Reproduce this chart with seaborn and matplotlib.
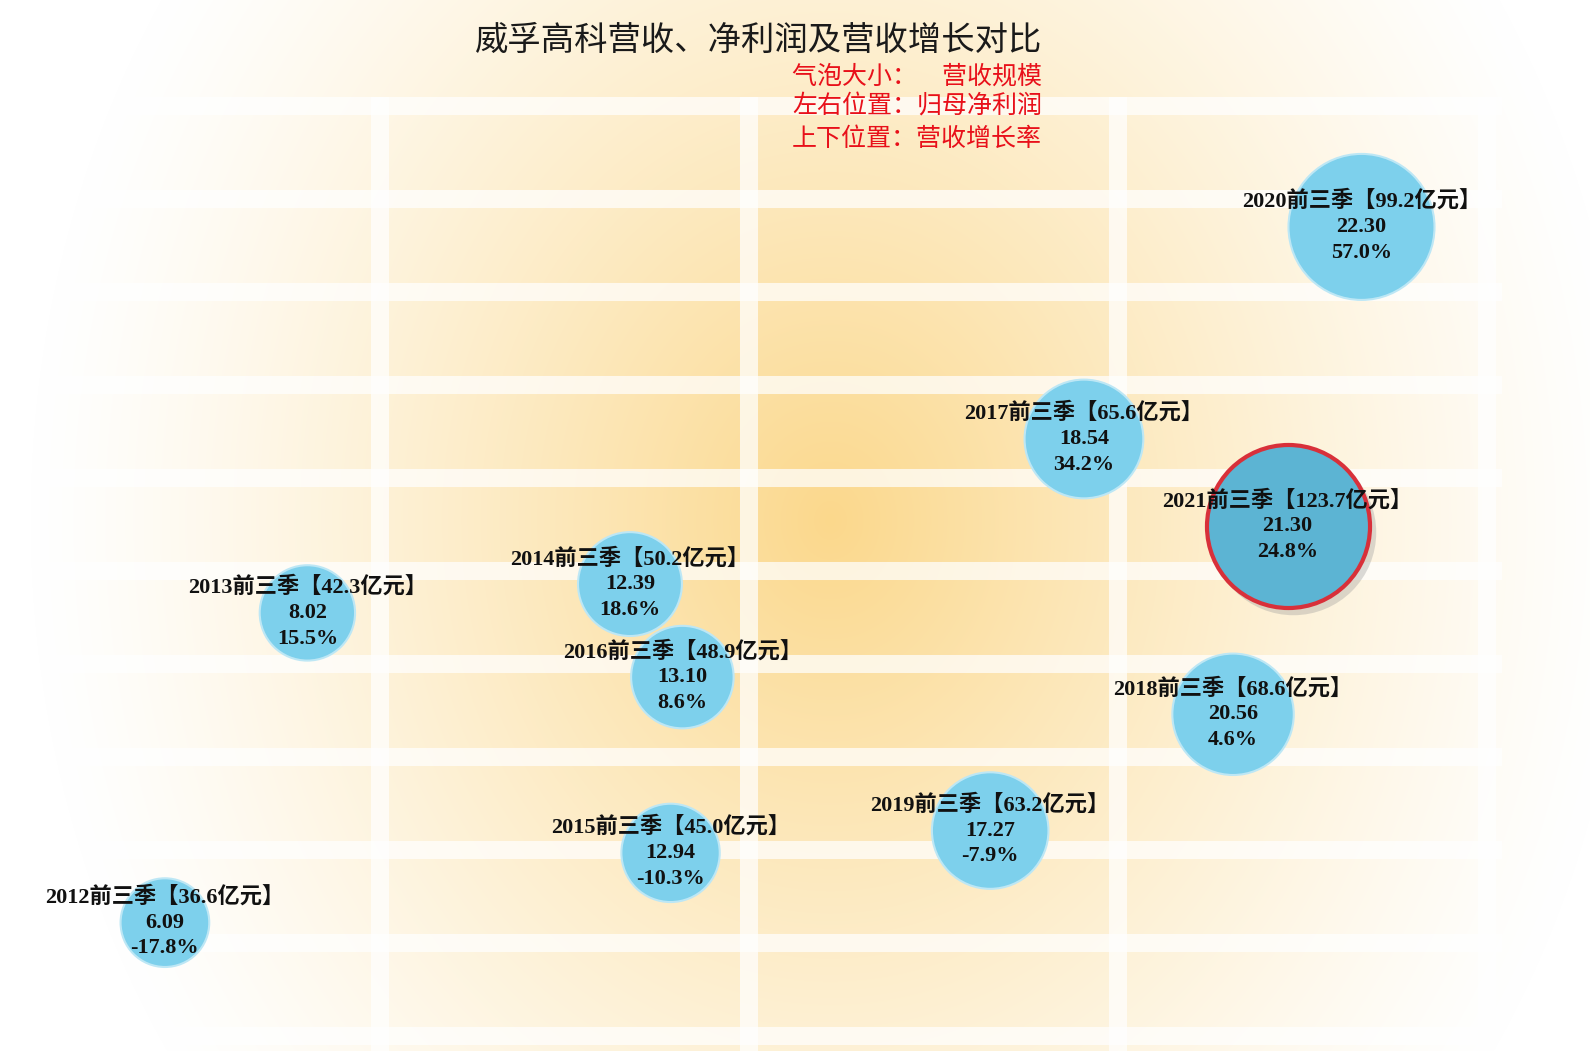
import numpy as np
import pandas as pd
import matplotlib
matplotlib.use("Agg")
import matplotlib.pyplot as plt
import matplotlib.transforms as mtransforms
import seaborn as sns

# data
years = ["2012", "2013", "2014", "2015", "2016", "2017", "2018", "2019", "2020", "2021"]
revenue = [36.6, 42.3, 50.2, 45.0, 48.9, 65.6, 68.6, 63.2, 99.2, 123.7]      # 亿元, bubble size
net_profit = [6.09, 8.02, 12.39, 12.94, 13.10, 18.54, 20.56, 17.27, 22.30, 21.30]  # x
growth = [-17.8, 15.5, 18.6, -10.3, 8.6, 34.2, 4.6, -7.9, 57.0, 24.8]       # y, %

title = "威孚高科营收、净利润及营收增长对比"
notes = ["气泡大小：\u3000营收规模", "左右位置：归母净利润", "上下位置：营收增长率"]

df = pd.DataFrame({"year": years, "revenue": revenue, "profit": net_profit, "growth": growth})
highlight = df["year"] == "2021"

sns.set_style("white")
plt.rcParams["font.family"] = ["Liberation Serif", "Noto Sans CJK SC", "DejaVu Sans"]

W, H = 1590, 1051
fig = plt.figure(figsize=(W / 100, H / 100), dpi=100)

# radial yellow gradient behind everything
bg = fig.add_axes([0, 0, 1, 1], zorder=0)
yy, xx = np.mgrid[0:H, 0:W]
t = np.sqrt(((xx - 830) / 800.0) ** 2 + ((yy - 520) / 950.0) ** 2)
k = np.clip(1 - t, 0, 1) ** 1.25
center = np.array([251, 216, 140]) / 255.0
img = 1 - k[..., None] * (1 - center)
bg.imshow(img, aspect="auto", extent=[0, 1, 0, 1])
bg.axis("off")

ax = fig.add_axes([-0.0026, 0, 0.9471, 0.908], zorder=1)
ax.patch.set_alpha(0)

# bubble area proportional to revenue
scale = 111.4
smin, smax = min(revenue), max(revenue)
size_kw = dict(size="revenue", sizes=(scale * smin, scale * smax), size_norm=(smin, smax), legend=False)

sns.scatterplot(data=df[~highlight], x="profit", y="growth", color="#7DD0EC",
                edgecolor="#BDE7F5", linewidth=1.5, alpha=1, ax=ax, zorder=3, **size_kw)

# shadow + highlighted 2021 bubble
hl = df[highlight]
shadow = mtransforms.offset_copy(ax.transData, fig=fig, x=4, y=-4, units="points")
ax.scatter(hl["profit"], hl["growth"], s=scale * hl["revenue"] * 1.03, color="#999999",
           alpha=0.35, linewidth=0, transform=shadow, zorder=3)
sns.scatterplot(data=hl, x="profit", y="growth", color="#5CB4D3",
                edgecolor="#D8303A", linewidth=3, alpha=1, ax=ax, zorder=4, **size_kw)

for _, row in df.iterrows():
    lines = [f"{row['year']}前三季【{row['revenue']:.1f}亿元】",
             f"{row['profit']:.2f}",
             f"{row['growth']:.1f}%"]
    for line, dy in zip(lines, [18.5, 0, -18.5]):
        ax.annotate(line, (row["profit"], row["growth"]), xytext=(0, dy),
                    textcoords="offset points", ha="center", va="center",
                    fontsize=16, fontweight="bold", color="#111111", zorder=6)

ax.set_xlim(3.8, 24.2)
ax.set_ylim(-31.6, 71)
ax.set_xticks(np.arange(4, 25, 5))
ax.set_yticks(np.arange(-30, 71, 10))
ax.grid(True, color="white", alpha=0.72, linewidth=13)
ax.tick_params(left=False, bottom=False, labelleft=False, labelbottom=False)
ax.set_xlabel("")
ax.set_ylabel("")
for s in ax.spines.values():
    s.set_visible(False)

fig.text(759 / W, 1 - 40 / H, title, ha="center", va="center", fontsize=24,
         family=["Noto Sans CJK SC"], color="#1a1a1a")
for note, yp in zip(notes, [76, 107, 139]):
    fig.text(1042 / W, 1 - yp / H, note, ha="right", va="center", fontsize=18,
             family=["Noto Sans CJK SC"], color="#E8101A")

fig.savefig("out.png", dpi=100)
